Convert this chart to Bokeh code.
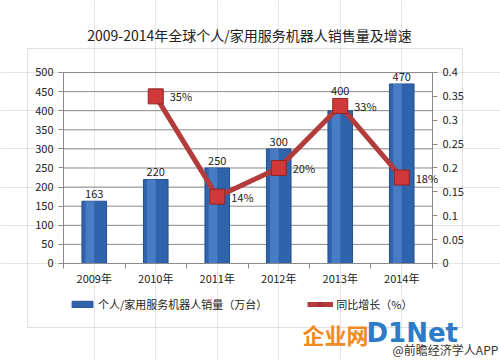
from bokeh.plotting import figure
from bokeh.models import (ColumnDataSource, Range1d, LinearAxis, FixedTicker,
                          NumeralTickFormatter, LabelSet, Legend,
                          LegendItem, BoxAnnotation, Label)
from bokeh.transform import dodge
from bokeh.embed import file_html
from bokeh.resources import INLINE
from bokeh.core.properties import value

years = ["2009年", "2010年", "2011年", "2012年", "2013年", "2014年"]
sales = [163, 220, 250, 300, 400, 470]
sales_labels = ["163", "220", "250", "300", "400", "470"]
growth_years = ["2010年", "2011年", "2012年", "2013年", "2014年"]
growth = [0.35, 0.14, 0.20, 0.33, 0.18]
growth_labels = ["35%", "14%", "20%", "33%", "18%"]
left_ticks = [0, 50, 100, 150, 200, 250, 300, 350, 400, 450, 500]
right_ticks = [0, 0.05, 0.1, 0.15, 0.2, 0.25, 0.3, 0.35, 0.4]
title_text = "2009-2014年全球个人/家用服务机器人销售量及增速"
legend_bar = "个人/家用服务机器人销量（万台）"
legend_line = "同比增长（%）"

# label lift (px) so that the 2013 value clears the line marker
bar_label_lift = [3, 3, 3, 3, 16, 3]

FONT = "Noto Sans CJK SC"
GRAY = "#8a8a8a"
TXT = "#222222"

xi = list(range(len(years)))
gxi = [years.index(y) for y in growth_years]
n = len(years)

bar_src = ColumnDataSource(dict(x=xi, y=sales, lab=sales_labels, off=bar_label_lift))
line_src = ColumnDataSource(dict(x=gxi, y=growth, lab=growth_labels))

# frame covers the whole canvas; axes are pinned inside it
p = figure(x_range=Range1d(-1.5244, 6.6057), y_range=Range1d(-253.93, 688.48),
           frame_width=500, frame_height=360, min_border=0,
           x_axis_location=None, y_axis_location=None,
           output_backend="svg", toolbar_location=None)
p.outline_line_color = None
p.background_fill_color = "white"
p.border_fill_color = "white"
p.extra_y_ranges = {"pct": Range1d(-0.203144, 0.550784)}

# horizontal grid lines
grid_vals = left_ticks[1:]
p.segment(x0=[-0.5] * len(grid_vals), x1=[n - 0.5] * len(grid_vals),
          y0=grid_vals, y1=grid_vals, line_color=GRAY, line_width=1)

def style_axis(ax):
    ax.axis_line_color = GRAY
    ax.major_tick_line_color = GRAY
    ax.major_tick_out = 5
    ax.major_tick_in = 0
    ax.minor_tick_line_color = None
    ax.major_label_text_font = FONT
    ax.major_label_text_font_size = "11px"
    ax.major_label_text_color = TXT

# left axis
axl = LinearAxis(ticker=FixedTicker(ticks=left_ticks), fixed_location=-0.5,
                 bounds=(0, 500))
style_axis(axl)
p.add_layout(axl, "left")

# right axis
axr = LinearAxis(y_range_name="pct", ticker=FixedTicker(ticks=right_ticks),
                 formatter=NumeralTickFormatter(format="0.[00]"),
                 fixed_location=n - 0.5, bounds=(0, 0.4))
style_axis(axr)
p.add_layout(axr, "right")

# bottom axis: category labels
axb = LinearAxis(ticker=FixedTicker(ticks=xi), fixed_location=0, bounds=(-0.5, n - 0.5),
                 major_label_overrides={i: y for i, y in zip(xi, years)})
style_axis(axb)
axb.major_tick_line_color = None
axb.major_label_standoff = 2
p.add_layout(axb, "below")

# bottom axis: boundary ticks
axb2 = LinearAxis(ticker=FixedTicker(ticks=[i - 0.5 for i in range(n + 1)]),
                  fixed_location=0, bounds=(-0.5, n - 0.5))
style_axis(axb2)
axb2.major_label_text_color = None
p.add_layout(axb2, "below")

# bars
bars = p.vbar(x="x", top="y", width=0.4, source=bar_src,
              fill_color="#2F63AC", line_color="#24508F")
p.vbar(x=dodge("x", -0.07), top="y", width=0.14, source=bar_src,
       fill_color="#5A8ED3", line_color=None, fill_alpha=0.6)
p.add_layout(LabelSet(x="x", y="y", text="lab", source=bar_src, text_align="center",
                      text_baseline="bottom", y_offset="off", text_font=value(FONT),
                      text_font_size="11px", text_color=TXT))

# growth line
ln = p.line(x="x", y="y", source=line_src, y_range_name="pct",
            line_color="#B23B3B", line_width=5)
mk = p.scatter(x="x", y="y", source=line_src, y_range_name="pct", marker="square",
               size=15, fill_color="#D0393A", line_color="#8E2424", line_width=1)
p.add_layout(LabelSet(x="x", y="y", text="lab", source=line_src, y_range_name="pct",
                      text_align="left", text_baseline="middle", x_offset=14,
                      text_font=value(FONT), text_font_size="11px", text_color=TXT))

# legend
legend = Legend(items=[LegendItem(label=legend_bar, renderers=[bars]),
                       LegendItem(label=legend_line, renderers=[ln, mk])],
                orientation="horizontal", location=(69, 48), spacing=40,
                label_text_font=FONT, label_text_font_size="11px",
                label_text_color=TXT, border_line_color=None,
                background_fill_alpha=0, label_standoff=3,
                glyph_width=26, glyph_height=8, padding=4, margin=0)
p.add_layout(legend, "center")

# title
p.add_layout(Label(x=249, y=326, x_units="screen", y_units="screen", text=title_text,
                   text_font=FONT, text_font_size="14px", text_color=TXT,
                   text_align="center", text_baseline="middle"))

# outer chart box
p.add_layout(BoxAnnotation(left=27, right=462, top=48, bottom=327,
                           left_units="canvas", right_units="canvas",
                           top_units="canvas", bottom_units="canvas",
                           fill_color=None, fill_alpha=0, line_color="#9a9a9a",
                           line_width=1))

# watermark marks
p.add_layout(Label(x=302, y=27, x_units="screen", y_units="screen", text="企业网",
                   text_font=FONT, text_font_size="22px", text_font_style="bold",
                   text_color="#F08A1E", text_baseline="middle"))
p.add_layout(Label(x=366, y=28, x_units="screen", y_units="screen", text="D1Net",
                   text_font="DejaVu Sans", text_font_size="26px", text_font_style="bold",
                   text_color="#2D7CC8", text_baseline="middle"))
p.add_layout(Label(x=392, y=11, x_units="screen", y_units="screen", text="@前瞻经济学人APP",
                   text_font=FONT, text_font_size="12px",
                   text_color="#333333", text_baseline="middle"))

open("out.html", "w").write(file_html(p, INLINE))
